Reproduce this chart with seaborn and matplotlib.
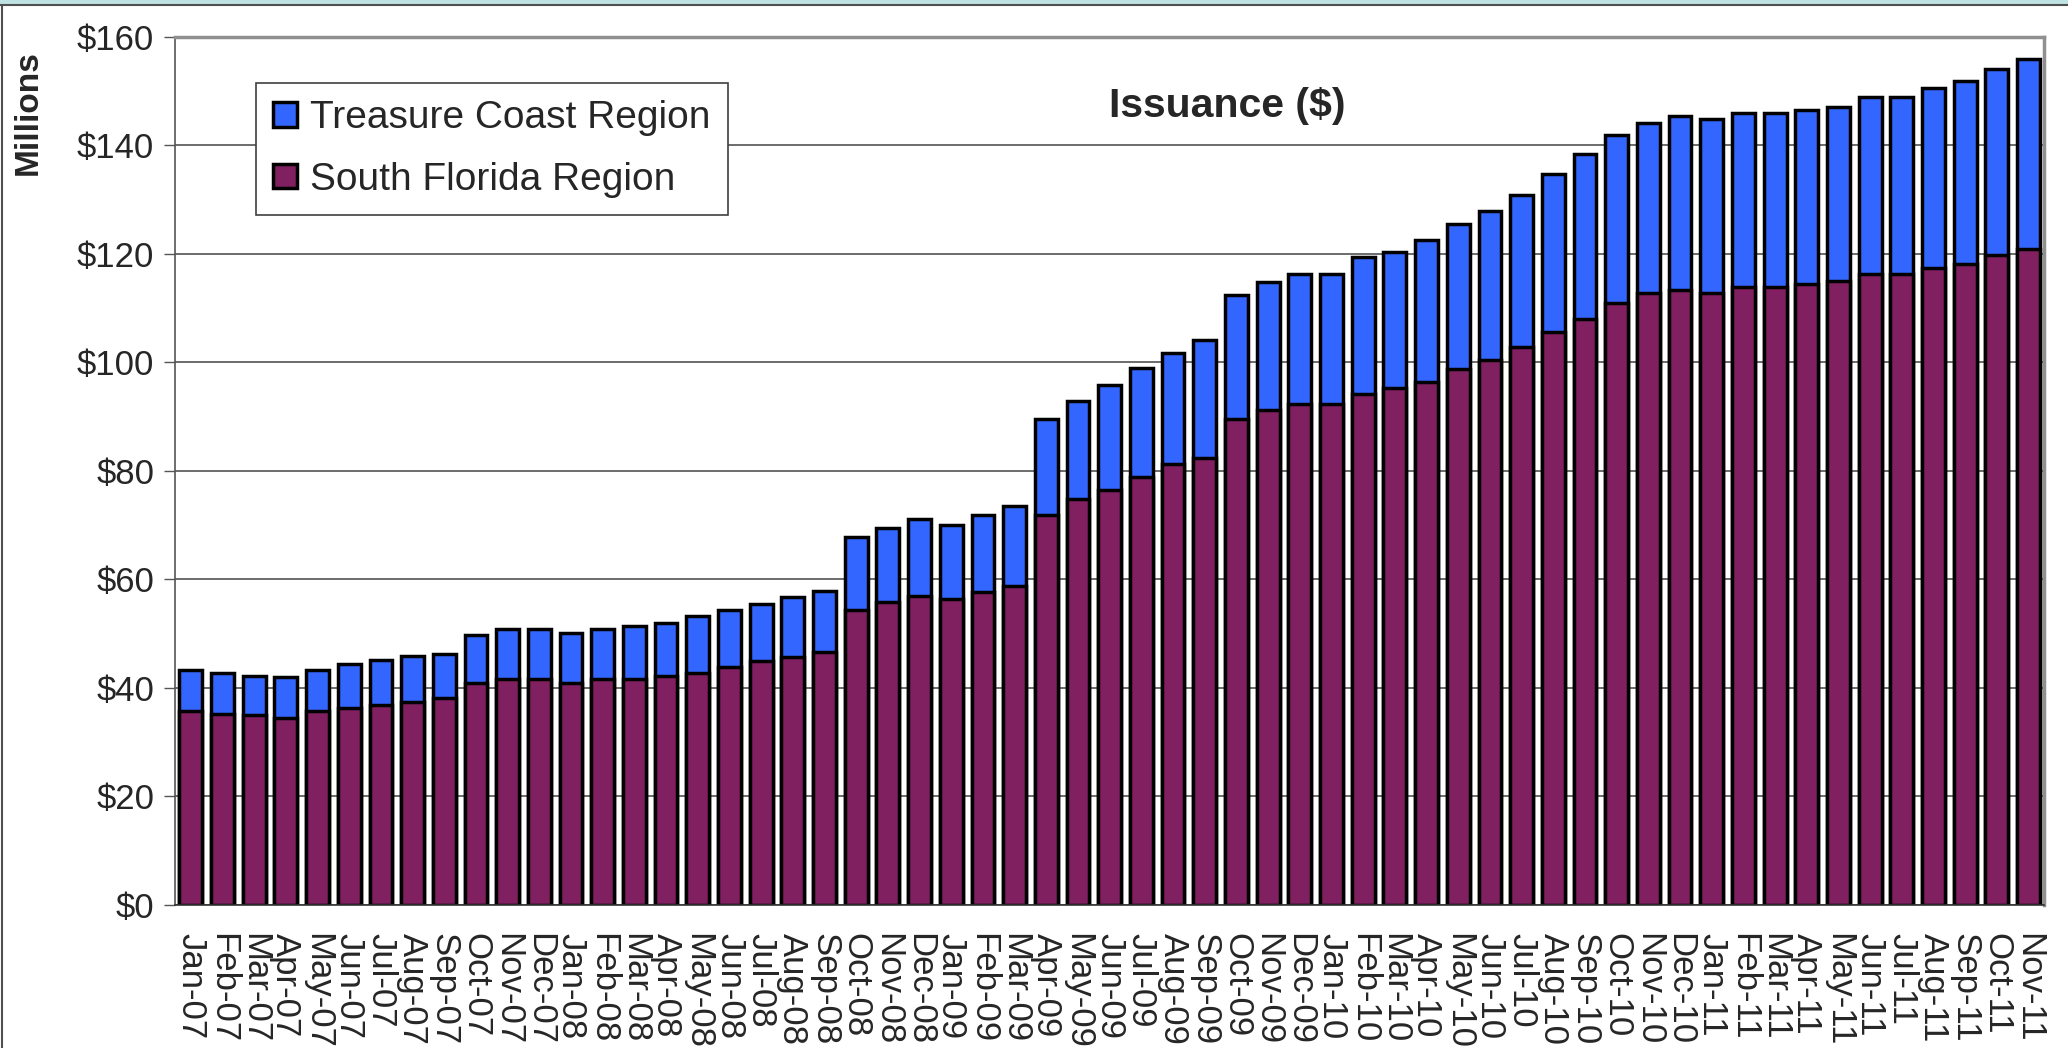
import matplotlib
matplotlib.use("Agg")
import matplotlib.pyplot as plt
import seaborn as sns
import pandas as pd
import numpy as np
from matplotlib.patches import Patch, Rectangle
from matplotlib.lines import Line2D

months = ["Jan-07", "Feb-07", "Mar-07", "Apr-07", "May-07", "Jun-07", "Jul-07", "Aug-07", "Sep-07", "Oct-07", "Nov-07", "Dec-07",
          "Jan-08", "Feb-08", "Mar-08", "Apr-08", "May-08", "Jun-08", "Jul-08", "Aug-08", "Sep-08", "Oct-08", "Nov-08", "Dec-08",
          "Jan-09", "Feb-09", "Mar-09", "Apr-09", "May-09", "Jun-09", "Jul-09", "Aug-09", "Sep-09", "Oct-09", "Nov-09", "Dec-09",
          "Jan-10", "Feb-10", "Mar-10", "Apr-10", "May-10", "Jun-10", "Jul-10", "Aug-10", "Sep-10", "Oct-10", "Nov-10", "Dec-10",
          "Jan-11", "Feb-11", "Mar-11", "Apr-11", "May-11", "Jun-11", "Jul-11", "Aug-11", "Sep-11", "Oct-11", "Nov-11"]

# millions of dollars
south_florida = [35.7, 35.2, 35.1, 34.5, 35.7, 36.3, 36.9, 37.5, 38.1, 41.0, 41.6, 41.6,
                 41.0, 41.6, 41.6, 42.2, 42.7, 43.9, 45.0, 45.7, 46.7, 54.3, 55.8, 57.0,
                 56.4, 57.6, 58.8, 71.8, 74.8, 76.5, 78.9, 81.2, 82.4, 89.5, 91.2, 92.4,
                 92.4, 94.1, 95.3, 96.4, 98.8, 100.5, 102.9, 105.7, 108.1, 111.0, 112.8, 113.3,
                 112.8, 114.0, 114.0, 114.5, 115.1, 116.3, 116.3, 117.4, 118.1, 119.8, 121.0]
treasure_coast = [7.6, 7.5, 7.1, 7.6, 7.6, 8.2, 8.3, 8.3, 8.2, 8.7, 9.3, 9.3,
                  9.2, 9.3, 9.8, 9.8, 10.5, 10.5, 10.5, 11.0, 11.2, 13.5, 13.6, 14.2,
                  13.6, 14.2, 14.7, 17.7, 18.1, 19.4, 20.0, 20.5, 21.8, 22.9, 23.6, 24.0,
                  24.0, 25.3, 25.0, 26.2, 26.8, 27.4, 27.9, 29.1, 30.3, 30.9, 31.4, 32.1,
                  32.0, 32.0, 32.0, 32.0, 32.0, 32.6, 32.6, 33.2, 33.7, 34.3, 34.9]

yticks = [0, 20, 40, 60, 80, 100, 120, 140, 160]

blue = "#3366FF"
plum = "#802060"

df = pd.DataFrame({"month": months, "sf": south_florida, "tc": treasure_coast})
df["total"] = df["sf"] + df["tc"]

sns.set_style("white")
plt.rcParams["font.family"] = ["Liberation Sans", "DejaVu Sans"]

fig = plt.figure(figsize=(20.68, 10.48), dpi=100)
ax = fig.add_axes([0.0846, 0.1365, 0.904, 0.8282])

# stacked look: full total in blue, south florida drawn over it
sns.barplot(data=df, x="month", y="total", color=blue, saturation=1, width=0.72,
            edgecolor="black", linewidth=2.5, errorbar=None, ax=ax)
sns.barplot(data=df, x="month", y="sf", color=plum, saturation=1, width=0.72,
            edgecolor="black", linewidth=2.5, errorbar=None, ax=ax)

ax.set_ylim(0, 160)
ax.set_xlim(-0.5, len(months) - 0.5)
ax.set_yticks(yticks)
ax.set_yticklabels(["$%d" % v for v in yticks], fontsize=25)
ax.yaxis.grid(True, color="#444444", linewidth=1.1)
ax.set_axisbelow(True)
ax.set_xlabel("")
ax.set_ylabel("")

ax.set_xticks(range(len(months)))
ax.set_xticklabels(months, rotation=270, fontsize=25, ha="center", va="top")
ax.tick_params(axis="x", which="major", length=0, pad=20)
ax.set_xticks(np.arange(-0.5, len(months), 1), minor=True)
ax.tick_params(axis="x", which="minor", length=8, width=1, color="#555555", direction="out")
ax.tick_params(axis="y", which="major", length=8, width=1, color="#555555", direction="out", left=True, pad=7)

for side in ["top", "right"]:
    ax.spines[side].set_color("#909090")
    ax.spines[side].set_linewidth(2.5)
ax.spines["left"].set_color("#555555")
ax.spines["left"].set_linewidth(1.2)
ax.spines["bottom"].set_color("#333333")
ax.spines["bottom"].set_linewidth(1.2)

ax.text(0.563, 0.92, "Issuance ($)", transform=ax.transAxes, ha="center", va="center",
        fontsize=29.5, fontweight="bold")

handles = [Patch(facecolor=blue, edgecolor="black", linewidth=2.5),
           Patch(facecolor=plum, edgecolor="black", linewidth=2.5)]
leg = ax.legend(handles, ["Treasure Coast Region", "South Florida Region"], loc="upper left",
                bbox_to_anchor=(0.0433, 0.947), borderaxespad=0, fontsize=28,
                handlelength=0.6, handleheight=0.6, handletextpad=0.35,
                labelspacing=0.65, borderpad=0.45, fancybox=False, framealpha=1)
leg.get_frame().set_edgecolor("#404040")
leg.get_frame().set_linewidth(1.2)

fig.text(28 / 2068, 1 - 113 / 1048, "Millions", rotation=90, ha="center", va="center",
         fontsize=24, fontweight="bold")

# slide frame
fig.patches.append(Rectangle((0, 1 - 4 / 1048), 1, 4 / 1048, transform=fig.transFigure,
                             facecolor="#bfe3e3", edgecolor="none"))
fig.lines.append(Line2D([0, 1], [1 - 5 / 1048, 1 - 5 / 1048], transform=fig.transFigure,
                        color="#505050", linewidth=1.5))
fig.lines.append(Line2D([0.0008, 0.0008], [0, 1 - 5 / 1048], transform=fig.transFigure,
                        color="#505050", linewidth=1.5))

fig.savefig("out.png", dpi=100)
